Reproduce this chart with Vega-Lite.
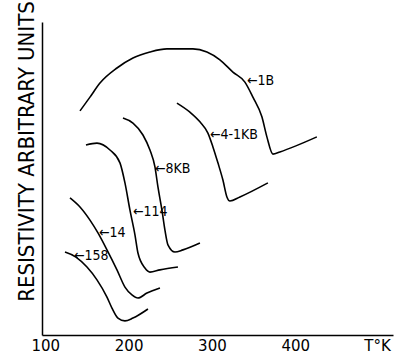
{
  "$schema": "https://vega.github.io/schema/vega-lite/v6.json",
  "autosize": "none",
  "width": 351,
  "height": 313,
  "padding": {"left": 42, "top": 22, "right": 1, "bottom": 22},
  "background": "white",
  "config": {
    "view": {"stroke": null},
    "axis": {"grid": false, "domainColor": "black", "domainWidth": 1.5, "ticks": false}
  },
  "datasets": {
    "curves": [
      {"run": "1B", "temp": 141.6, "rho": 71.6},
      {"run": "1B", "temp": 153.6, "rho": 76.0},
      {"run": "1B", "temp": 165.6, "rho": 80.5},
      {"run": "1B", "temp": 186.0, "rho": 85.3},
      {"run": "1B", "temp": 205.2, "rho": 88.5},
      {"run": "1B", "temp": 225.6, "rho": 90.4},
      {"run": "1B", "temp": 246.0, "rho": 91.4},
      {"run": "1B", "temp": 277.2, "rho": 91.4},
      {"run": "1B", "temp": 294.0, "rho": 90.4},
      {"run": "1B", "temp": 309.6, "rho": 87.9},
      {"run": "1B", "temp": 325.2, "rho": 84.0},
      {"run": "1B", "temp": 339.6, "rho": 80.8},
      {"run": "1B", "temp": 349.2, "rho": 76.0},
      {"run": "1B", "temp": 360.0, "rho": 69.7},
      {"run": "1B", "temp": 366.0, "rho": 63.3},
      {"run": "1B", "temp": 373.2, "rho": 57.8},
      {"run": "1B", "temp": 381.6, "rho": 58.5},
      {"run": "1B", "temp": 426.0, "rho": 63.3},

      {"run": "4-1KB", "temp": 258.0, "rho": 74.1},
      {"run": "4-1KB", "temp": 273.6, "rho": 71.2},
      {"run": "4-1KB", "temp": 285.6, "rho": 68.1},
      {"run": "4-1KB", "temp": 295.2, "rho": 64.5},
      {"run": "4-1KB", "temp": 301.2, "rho": 60.1},
      {"run": "4-1KB", "temp": 307.2, "rho": 55.0},
      {"run": "4-1KB", "temp": 313.2, "rho": 49.5},
      {"run": "4-1KB", "temp": 318.0, "rho": 44.1},
      {"run": "4-1KB", "temp": 321.6, "rho": 42.8},
      {"run": "4-1KB", "temp": 333.6, "rho": 44.1},
      {"run": "4-1KB", "temp": 367.2, "rho": 48.6},

      {"run": "8KB", "temp": 193.2, "rho": 69.3},
      {"run": "8KB", "temp": 205.2, "rho": 67.7},
      {"run": "8KB", "temp": 217.2, "rho": 63.9},
      {"run": "8KB", "temp": 225.6, "rho": 59.1},
      {"run": "8KB", "temp": 231.6, "rho": 53.7},
      {"run": "8KB", "temp": 235.2, "rho": 47.3},
      {"run": "8KB", "temp": 240.0, "rho": 39.9},
      {"run": "8KB", "temp": 243.6, "rho": 33.5},
      {"run": "8KB", "temp": 247.2, "rho": 28.8},
      {"run": "8KB", "temp": 255.6, "rho": 26.5},
      {"run": "8KB", "temp": 265.2, "rho": 27.2},
      {"run": "8KB", "temp": 285.6, "rho": 29.4},

      {"run": "114", "temp": 148.8, "rho": 60.7},
      {"run": "114", "temp": 162.0, "rho": 61.3},
      {"run": "114", "temp": 177.6, "rho": 59.1},
      {"run": "114", "temp": 189.6, "rho": 55.0},
      {"run": "114", "temp": 195.6, "rho": 48.6},
      {"run": "114", "temp": 201.6, "rho": 39.9},
      {"run": "114", "temp": 207.6, "rho": 32.0},
      {"run": "114", "temp": 211.2, "rho": 26.2},
      {"run": "114", "temp": 219.6, "rho": 21.4},
      {"run": "114", "temp": 225.6, "rho": 20.1},
      {"run": "114", "temp": 237.6, "rho": 20.8},
      {"run": "114", "temp": 259.2, "rho": 21.7},

      {"run": "14", "temp": 129.6, "rho": 43.8},
      {"run": "14", "temp": 141.6, "rho": 40.9},
      {"run": "14", "temp": 153.6, "rho": 36.7},
      {"run": "14", "temp": 163.2, "rho": 32.6},
      {"run": "14", "temp": 174.0, "rho": 27.2},
      {"run": "14", "temp": 186.0, "rho": 20.8},
      {"run": "14", "temp": 195.6, "rho": 15.3},
      {"run": "14", "temp": 204.0, "rho": 12.8},
      {"run": "14", "temp": 211.2, "rho": 11.8},
      {"run": "14", "temp": 222.0, "rho": 13.4},
      {"run": "14", "temp": 237.6, "rho": 15.0},

      {"run": "158", "temp": 123.6, "rho": 26.5},
      {"run": "158", "temp": 136.8, "rho": 24.9},
      {"run": "158", "temp": 150.0, "rho": 21.7},
      {"run": "158", "temp": 162.0, "rho": 17.6},
      {"run": "158", "temp": 174.0, "rho": 12.1},
      {"run": "158", "temp": 180.0, "rho": 8.6},
      {"run": "158", "temp": 187.2, "rho": 5.4},
      {"run": "158", "temp": 195.6, "rho": 4.5},
      {"run": "158", "temp": 205.2, "rho": 5.4},
      {"run": "158", "temp": 223.2, "rho": 8.3}
    ],
    "tags": [
      {"tag": "←1B", "temp": 342.0, "rho": 81.2},
      {"tag": "←4-1KB", "temp": 297.6, "rho": 63.9},
      {"tag": "←8KB", "temp": 231.6, "rho": 53.0},
      {"tag": "←114", "temp": 205.2, "rho": 39.3},
      {"tag": "←14", "temp": 164.4, "rho": 32.6},
      {"tag": "←158", "temp": 134.4, "rho": 25.2}
    ]
  },
  "layer": [
    {
      "data": {"name": "curves"},
      "mark": {"type": "line", "color": "black", "strokeWidth": 1.6, "interpolate": "monotone"},
      "encoding": {
        "x": {
          "field": "temp", "type": "quantitative",
          "scale": {"domain": [96, 517.4], "nice": false, "zero": false},
          "axis": {
            "values": [100, 200, 300, 400],
            "labelFont": "DejaVu Sans", "labelFontSize": 15, "labelColor": "black",
            "labelPadding": 3, "labelBaseline": "top",
            "title": "T°K", "titleFont": "DejaVu Sans", "titleFontSize": 15,
            "titleFontWeight": "normal", "titleColor": "black",
            "titleX": 335, "titleY": 3, "titleBaseline": "top", "titleAlign": "center"
          }
        },
        "y": {
          "field": "rho", "type": "quantitative",
          "scale": {"domain": [0, 100], "nice": false},
          "axis": {
            "labels": false,
            "title": "RESISTIVITY ARBITRARY UNITS",
            "titleFont": "DejaVu Sans Condensed", "titleFontSize": 22,
            "titleFontWeight": "normal", "titleColor": "black",
            "titleX": -9, "titleY": 129, "titleBaseline": "alphabetic", "titleAlign": "center"
          }
        },
        "detail": {"field": "run"},
        "order": {"field": "temp", "type": "quantitative"}
      }
    },
    {
      "data": {"name": "tags"},
      "mark": {"type": "text", "align": "left", "baseline": "middle", "font": "DejaVu Sans Condensed", "fontSize": 14, "color": "black"},
      "encoding": {
        "x": {"field": "temp", "type": "quantitative"},
        "y": {"field": "rho", "type": "quantitative"},
        "text": {"field": "tag"}
      }
    }
  ]
}
